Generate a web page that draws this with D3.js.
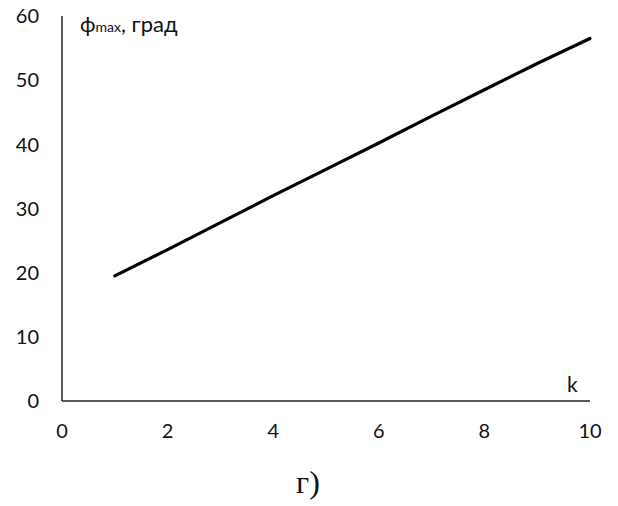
<!DOCTYPE html>
<html>
<head>
<meta charset="utf-8">
<script src="https://cdn.jsdelivr.net/npm/d3@7"></script>
<style>
  body { margin: 0; background: #fff; }
  text { font-family: Lato, "Open Sans", sans-serif; }
</style>
</head>
<body>
<div class="chart"></div>
<script>
// values
var kValues = [1, 2, 3, 4, 5, 6, 7, 8, 9, 10];
var phiMax = [19.5, 23.6, 27.8, 32.0, 36.1, 40.2, 44.4, 48.5, 52.6, 56.5];
var xTicks = [0, 2, 4, 6, 8, 10];
var yTicks = [0, 10, 20, 30, 40, 50, 60];

var width = 618,
    height = 506;

var xScale = d3.scaleLinear()
    .domain([0, 10])
    .range([62, 590]);

var yScale = d3.scaleLinear()
    .domain([0, 60])
    .range([401, 16]);

var svg = d3.select(".chart")
    .append("svg")
    .attr("width", width)
    .attr("height", height);

// axes without ticks, labels placed like the original
svg.append("line")
    .attr("x1", xScale(0)).attr("x2", xScale(0))
    .attr("y1", yScale(0)).attr("y2", yScale(60))
    .attr("stroke", "#222")
    .attr("stroke-width", 1.5);

svg.append("line")
    .attr("x1", xScale(0)).attr("x2", xScale(10))
    .attr("y1", yScale(0)).attr("y2", yScale(0))
    .attr("stroke", "#222")
    .attr("stroke-width", 1.5);

svg.selectAll(".ylab")
    .data(yTicks)
    .enter()
    .append("text")
    .attr("class", "ylab")
    .attr("x", 39)
    .attr("y", (d) => { return yScale(d); })
    .attr("dy", "0.36em")
    .attr("text-anchor", "end")
    .attr("font-size", 20)
    .attr("fill", "#111")
    .text((d) => { return d; });

svg.selectAll(".xlab")
    .data(xTicks)
    .enter()
    .append("text")
    .attr("class", "xlab")
    .attr("x", (d) => { return xScale(d); })
    .attr("y", 431)
    .attr("dy", "0.36em")
    .attr("text-anchor", "middle")
    .attr("font-size", 20)
    .attr("fill", "#111")
    .text((d) => { return d; });

// the data line
var line = d3.line()
    .x((d, i) => { return xScale(kValues[i]); })
    .y((d) => { return yScale(d); });

svg.append("path")
    .datum(phiMax)
    .attr("d", line)
    .attr("fill", "none")
    .attr("stroke", "#000")
    .attr("stroke-width", 3.2)
    .attr("stroke-linecap", "round");

// axis titles
var yTitle = svg.append("text")
    .attr("x", 80)
    .attr("y", 32)
    .attr("font-size", 22)
    .attr("fill", "#111");
yTitle.append("tspan").text("ф");
yTitle.append("tspan").attr("font-size", 14).text("max");
yTitle.append("tspan").text(", град");

svg.append("text")
    .attr("x", 567)
    .attr("y", 392)
    .attr("font-size", 21)
    .attr("fill", "#111")
    .text("k");

svg.append("text")
    .attr("x", 308)
    .attr("y", 493)
    .attr("text-anchor", "middle")
    .attr("font-size", 32)
    .attr("fill", "#111")
    .style("font-family", "'Liberation Serif', serif")
    .text("г)");
</script>
</body>
</html>
